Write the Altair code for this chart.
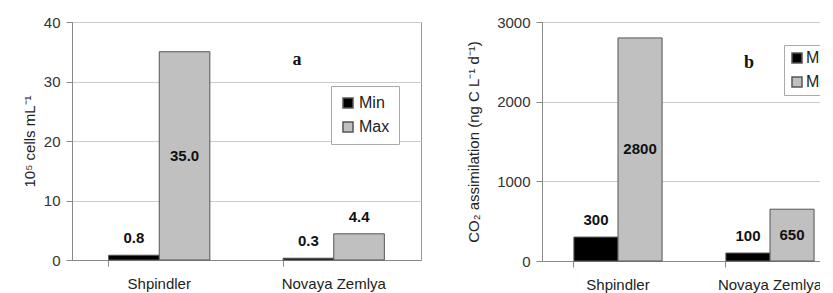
import altair as alt
import pandas as pd

sites = ["Shpindler", "Novaya Zemlya"]
series = ["Min", "Max"]
cells_min = [0.8, 0.3]
cells_max = [35.0, 4.4]
co2_min = [300, 100]
co2_max = [2800, 650]
cells_ticks = [0, 10, 20, 30, 40]
co2_ticks = [0, 1000, 2000, 3000]

FONT = "Liberation Sans"


def panel(mins, maxs, ticks, fmt, title, letter, w, h, lx, ly, letx, lety, tpad, lpad, loff):
    rows = []
    for s, a, b in zip(sites, mins, maxs):
        rows.append({"site": s, "series": "Min", "value": a})
        rows.append({"site": s, "series": "Max", "value": b})
    df = pd.DataFrame(rows)
    ymax = ticks[-1]
    base = alt.Chart(df)
    x = alt.X("site:N", sort=sites,
              scale=alt.Scale(paddingInner=0.42, paddingOuter=0.21),
              axis=alt.Axis(title=None, labelAngle=0, labelFontSize=15, labelPadding=10,
                            ticks=True, tickSize=6, bandPosition=0, domainColor="#888",
                            tickColor="#888", labelColor="#222", labelFont=FONT))
    xo = alt.XOffset("series:N", sort=series, scale=alt.Scale(paddingInner=0, paddingOuter=0))
    y = alt.Y("value:Q", scale=alt.Scale(domain=[0, ymax], nice=False),
              axis=alt.Axis(values=ticks, format="d", title=title, titleFontSize=15,
                            titleFontWeight="normal", titleColor="#222", labelFontSize=15,
                            labelColor="#333", tickSize=6, labelPadding=6, titlePadding=tpad,
                            domainColor="#888", tickColor="#888", gridColor="#cccccc",
                            labelFont=FONT, titleFont=FONT))
    bars = base.mark_bar(stroke="#555", strokeWidth=1).encode(
        x=x, xOffset=xo, y=y,
        color=alt.Color("series:N", sort=series,
                        scale=alt.Scale(domain=series, range=["#000000", "#c0c0c0"]),
                        legend=alt.Legend(title=None, orient="none", legendX=lx, legendY=ly,
                                          fillColor="white", strokeColor="#aaa", padding=lpad,
                                          rowPadding=8, symbolType="square", symbolSize=100,
                                          labelFontSize=16, labelFont=FONT, labelColor="#222",
                                          labelOffset=loff)),
    )
    above = base.transform_filter(f"datum.value <= {0.15 * ymax}").mark_text(
        fontWeight="bold", fontSize=15, dy=-17, font=FONT, color="#111").encode(
        x=alt.X("site:N", sort=sites), xOffset=xo, y="value:Q",
        text=alt.Text("value:Q", format=fmt))
    inside = base.transform_filter(f"datum.value > {0.15 * ymax}").transform_calculate(
        mid="datum.value / 2").mark_text(
        fontWeight="bold", fontSize=15, font=FONT, color="#111").encode(
        x=alt.X("site:N", sort=sites), xOffset=xo, y="mid:Q",
        text=alt.Text("value:Q", format=fmt))
    let = alt.Chart(pd.DataFrame({"t": [letter]})).mark_text(
        font="Liberation Serif", fontWeight="bold", fontSize=18, color="#111").encode(
        text="t:N", x=alt.value(letx), y=alt.value(lety))
    return alt.layer(bars, above, inside, let).properties(width=w, height=h)


left = panel(cells_min, cells_max, cells_ticks, ".1f", "10⁵ cells mL⁻¹", "a",
             349, 238, 259, 64, 225, 38, 6, 9, 3)
right = panel(co2_min, co2_max, co2_ticks, "d", "CO₂ assimilation (ng C L⁻¹ d⁻¹)", "b",
              304, 239, 242, 23, 207, 41, 15, 5, 1)

chart = alt.hconcat(left, right, spacing=44).resolve_scale(
    x="independent", y="independent", color="independent", xOffset="independent"
).properties(padding={"left": 13, "top": 6, "right": -27, "bottom": 0}).configure_view(
    stroke="#999", strokeWidth=1
)

chart.save("out.html", embed_options={"renderer": "svg", "actions": False})
